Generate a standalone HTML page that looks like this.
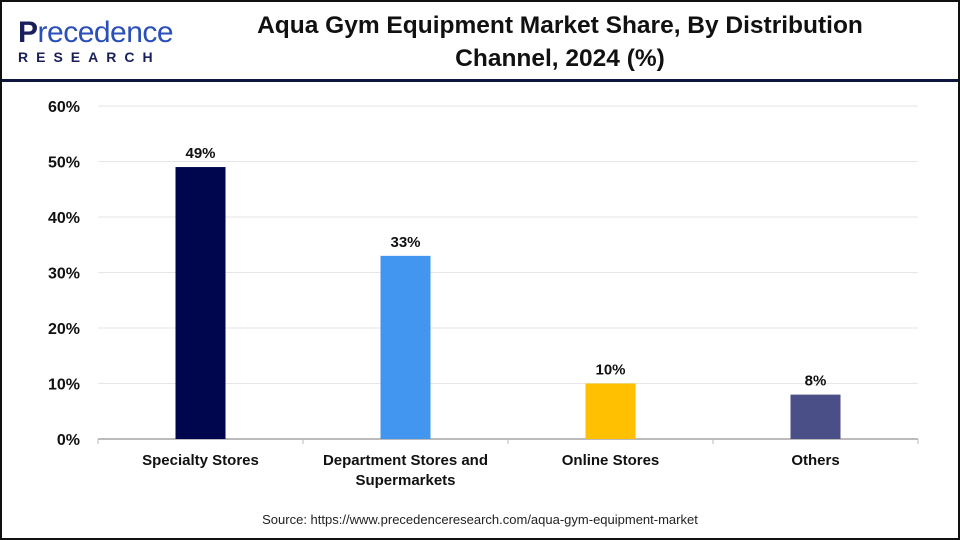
<!DOCTYPE html>
<html><head><meta charset="utf-8"><style>
body{margin:0;width:960px;height:540px;overflow:hidden;background:#fff;font-family:"Liberation Sans",Arial,sans-serif}
#frame{position:absolute;left:0;top:0;width:956px;height:536px;border:2px solid #111;}
</style></head><body>
<div id="frame"></div>
<div style="position:absolute;left:18px;top:18px;">
<div style="font-size:30px;color:#1a1f5c;letter-spacing:-0.5px;line-height:30px"><b>P</b><span style="color:#2a4fb8">recedence</span></div>
<div style="font-size:14px;font-weight:bold;letter-spacing:8px;color:#1a1f5c;margin-top:1px">RESEARCH</div>
</div>
<div style="position:absolute;left:200px;top:9px;width:720px;text-align:center;font-size:24.5px;font-weight:bold;color:#111;line-height:33px">Aqua Gym Equipment Market Share, By Distribution<br>Channel, 2024 (%)</div>
<div style="position:absolute;left:2px;top:79px;width:956px;height:3px;background:#0d1541"></div>
<svg id="c" width="960" height="540" style="position:absolute;left:0;top:0"></svg>
<div style="position:absolute;left:0;top:512px;width:960px;text-align:center;font-size:13px;color:#222">Source: https://www.precedenceresearch.com/aqua-gym-equipment-market</div>
<script>
const categories=[["Specialty Stores"],["Department Stores and","Supermarkets"],["Online Stores"],["Others"]];
const values=[49,33,10,8];
const colors=["#00064d","#4396f0","#ffc001","#4b4f87"];
const ticks=[0,10,20,30,40,50,60];
const svg=document.getElementById('c');const NS='http://www.w3.org/2000/svg';
const x0=98,x1=918,y0=439,yTop=106,maxV=60;
const y=v=>y0-(y0-yTop)*v/maxV;
const bw=(x1-x0)/categories.length;
const xc=i=>x0+bw*(i+0.5);
function mk(t,a){const e=document.createElementNS(NS,t);for(const k in a)e.setAttribute(k,a[k]);svg.appendChild(e);return e;}
ticks.forEach(t=>{
 const g=mk('line',{x1:x0,x2:x1,y1:y(t),y2:y(t),stroke:'#e6e6e6','stroke-width':1});
 
 
 const l=mk('text',{x:80,y:y(t)+6,'text-anchor':'end','font-size':16,'font-weight':'bold',fill:'#111'});
 l.textContent=t+'%';
 
 
});
const ax=mk('line',{x1:x0,x2:x1,y1:y0,y2:y0,stroke:'#bbb','stroke-width':2});


for(let i=0;i<=categories.length;i++){const tk=mk('line',{x1:x0+bw*i,x2:x0+bw*i,y1:y0,y2:y0+5,stroke:'#bbb','stroke-width':1});
 
 }
values.forEach((v,i)=>{
 const r=mk('rect',{x:xc(i)-25,y:y(v),width:50,height:y0-y(v),fill:colors[i]});
 
 
 const t=mk('text',{x:xc(i),y:y(v)-9,'text-anchor':'middle','font-size':15,'font-weight':'bold',fill:'#111'});
 t.textContent=v+'%';
 
 
 categories[i].forEach((s,j)=>{const c=mk('text',{x:xc(i),y:465+j*20,'text-anchor':'middle','font-size':15,'font-weight':'bold',fill:'#111'});
  c.textContent=s;
  
  });
});
</script>
</body></html>
